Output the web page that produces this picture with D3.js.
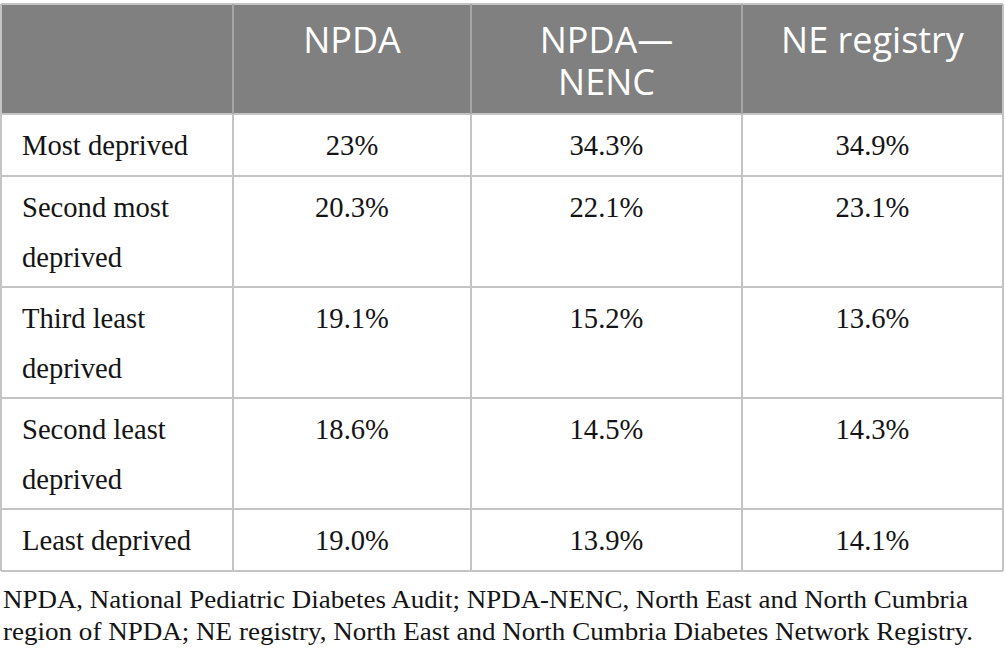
<!DOCTYPE html>
<html><head><meta charset="utf-8">
<script src="https://cdn.jsdelivr.net/npm/d3@7"></script>
<style>html,body{margin:0;padding:0;background:#fff;}svg{display:block;}</style>
</head><body>
<script>
const headers = [["NPDA"], ["NPDA—", "NENC"], ["NE registry"]];
const rowLabels = [["Most deprived"], ["Second most", "deprived"], ["Third least", "deprived"], ["Second least", "deprived"], ["Least deprived"]];
const npda = ["23%", "20.3%", "19.1%", "18.6%", "19.0%"];
const npdaNenc = ["34.3%", "22.1%", "15.2%", "14.5%", "13.9%"];
const neRegistry = ["34.9%", "23.1%", "13.6%", "14.3%", "14.1%"];
const footnote = ["NPDA, National Pediatric Diabetes Audit; NPDA-NENC, North East and North Cumbria",
                  "region of NPDA; NE registry, North East and North Cumbria Diabetes Network Registry."];

const W = 1005, H = 661;
const svg = d3.select("body").append("svg").attr("width", W).attr("height", H);

const colEdges = [1, 233, 471, 742, 1003];
const rowEdges = [4, 114, 176, 287, 398, 509, 571];
const lineColor = "#c4c4c4";
const serif = "'Liberation Serif', 'Times New Roman', serif";
const sans = "'Open Sans', 'Noto Sans', sans-serif";

svg.append("rect").attr("x", colEdges[0]).attr("y", rowEdges[0])
  .attr("width", colEdges[4] - colEdges[0]).attr("height", rowEdges[1] - rowEdges[0])
  .attr("fill", "#808080");

const hl = svg.append("g");
rowEdges.forEach(y => {
  hl.append("line").attr("x1", colEdges[0]).attr("x2", colEdges[4]).attr("y1", y).attr("y2", y)
    .attr("stroke", lineColor).attr("stroke-width", 2);
});
colEdges.forEach(x => {
  hl.append("line").attr("x1", x).attr("x2", x).attr("y1", rowEdges[0]).attr("y2", rowEdges[6])
    .attr("stroke", lineColor).attr("stroke-width", 2);
});
[1,2,3].forEach(i => {
  svg.append("line").attr("x1", colEdges[i]).attr("x2", colEdges[i]).attr("y1", rowEdges[0]).attr("y2", rowEdges[1])
    .attr("stroke", "#a6a6a6").attr("stroke-width", 2);
});

headers.forEach((h, j) => {
  const cx = (colEdges[j + 1] + colEdges[j + 2]) / 2;
  const t = svg.append("text").attr("x", cx).attr("y", 53).attr("text-anchor", "middle")
    .attr("font-family", sans).attr("font-size", 36).attr("fill", "#fff");
  h.forEach((line, k) => t.append("tspan").attr("x", cx).attr("dy", k === 0 ? 0 : 42).text(line));
});

const cols = [npda, npdaNenc, neRegistry];
rowLabels.forEach((lab, i) => {
  const top = rowEdges[i + 1];
  const t = svg.append("text").attr("x", 22).attr("y", top + 41)
    .attr("font-family", serif).attr("font-size", 28.6).attr("fill", "#141414");
  lab.forEach((line, k) => t.append("tspan").attr("x", 22).attr("dy", k === 0 ? 0 : 50).text(line));
  cols.forEach((c, j) => {
    const cx = (colEdges[j + 1] + colEdges[j + 2]) / 2;
    svg.append("text").attr("x", cx).attr("y", top + 41).attr("text-anchor", "middle")
      .attr("font-family", serif).attr("font-size", 28.6).attr("fill", "#141414").text(c[i]);
  });
});

const fnWidths = [965, 970];
footnote.forEach((line, k) => {
  svg.append("text").attr("x", 3).attr("y", 608 + k * 32)
    .attr("font-family", serif).attr("font-size", 26).attr("fill", "#141414")
    .attr("textLength", fnWidths[k]).attr("lengthAdjust", "spacingAndGlyphs").text(line);
});
</script>
</body></html>
